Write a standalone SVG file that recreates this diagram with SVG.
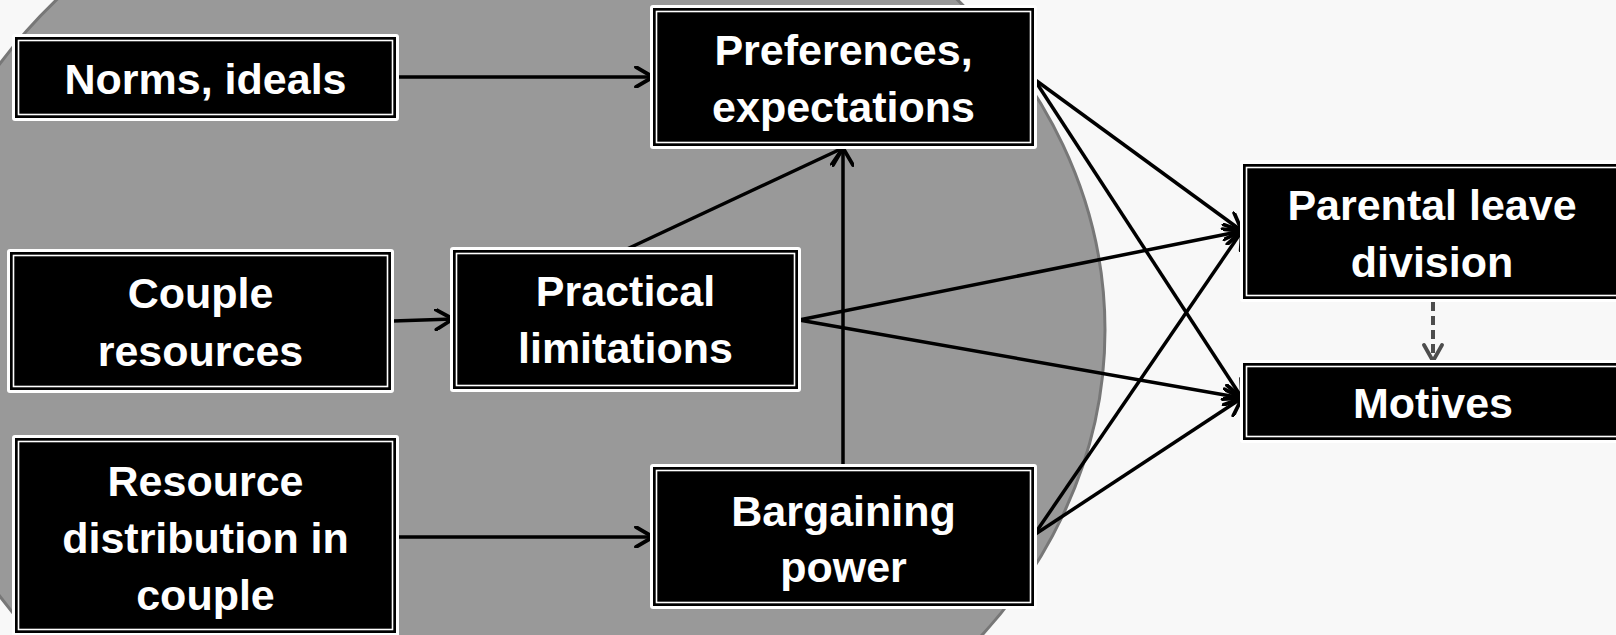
<svg xmlns="http://www.w3.org/2000/svg" width="1616" height="635" viewBox="0 0 1616 635">
  <defs>
    <marker id="arr" viewBox="0 0 22 22" refX="19" refY="11" markerWidth="22" markerHeight="22" markerUnits="userSpaceOnUse" orient="auto">
      <path d="M2,1 L19,11 L2,21" fill="none" stroke="#000" stroke-width="3.8" stroke-linecap="round" stroke-linejoin="round"/>
    </marker>
    <marker id="arrg" viewBox="0 0 22 22" refX="19" refY="11" markerWidth="22" markerHeight="22" markerUnits="userSpaceOnUse" orient="auto">
      <path d="M3,2 L19,11 L3,20" fill="none" stroke="#4d4d4d" stroke-width="3.8" stroke-linecap="round" stroke-linejoin="round"/>
    </marker>
  </defs>
  <style>
    .halo { fill: #fff; }
    .box { fill: #000; }
    .inner { fill: none; stroke: #fff; stroke-width: 1.6; }
    .lbl { fill: #fff; font-family: "Liberation Sans", Arial, sans-serif; font-size: 43px; font-weight: bold; text-anchor: middle; }
    .conn { fill: none; stroke: #000; stroke-width: 3.5; marker-end: url(#arr); }
    .dash { fill: none; stroke: #4d4d4d; stroke-width: 4; stroke-dasharray: 9 5; marker-end: url(#arrg); }
  </style>
  <rect x="0" y="0" width="1616" height="635" fill="#f8f8f8"/>
  <ellipse cx="507" cy="330" rx="598" ry="502" fill="#999" stroke="#777" stroke-width="3"/>

  <g id="connectors">
    <line class="conn" x1="398" y1="77" x2="653" y2="77"/>
    <line class="conn" x1="393" y1="321" x2="453" y2="319"/>
    <line class="conn" x1="627" y1="249" x2="843" y2="148"/>
    <line class="conn" x1="843" y1="466" x2="843" y2="148"/>
    <line class="conn" x1="398" y1="537" x2="653" y2="537"/>
    <line class="conn" x1="1034" y1="79" x2="1242" y2="231"/>
    <line class="conn" x1="1034" y1="79" x2="1242" y2="398"/>
    <line class="conn" x1="799" y1="320" x2="1242" y2="231"/>
    <line class="conn" x1="799" y1="320" x2="1242" y2="398"/>
    <line class="conn" x1="1034" y1="535" x2="1242" y2="231"/>
    <line class="conn" x1="1034" y1="535" x2="1242" y2="398"/>
    <line class="dash" x1="1433" y1="302" x2="1433" y2="361"/>
  </g>

  <g id="norms">
    <rect class="halo" x="12" y="34" width="387" height="87" rx="3"/>
    <rect class="box" x="15" y="37" width="381" height="81"/>
    <rect class="inner" x="18.5" y="40.5" width="374" height="74"/>
    <text class="lbl" x="205.5" y="94">Norms, ideals</text>
  </g>

  <g id="preferences">
    <rect class="halo" x="650" y="5" width="387" height="144" rx="3"/>
    <rect class="box" x="653" y="8" width="381" height="138"/>
    <rect class="inner" x="656.5" y="11.5" width="374" height="131"/>
    <text class="lbl" x="843.5" y="65">Preferences,</text>
    <text class="lbl" x="843.5" y="122">expectations</text>
  </g>

  <g id="couple">
    <rect class="halo" x="7" y="249" width="387" height="144" rx="3"/>
    <rect class="box" x="10" y="252" width="381" height="138"/>
    <rect class="inner" x="13.5" y="255.5" width="374" height="131"/>
    <text class="lbl" x="200.5" y="308">Couple</text>
    <text class="lbl" x="200.5" y="366">resources</text>
  </g>

  <g id="practical">
    <rect class="halo" x="450" y="247" width="351" height="145" rx="3"/>
    <rect class="box" x="453" y="250" width="345" height="139"/>
    <rect class="inner" x="456.5" y="253.5" width="338" height="132"/>
    <text class="lbl" x="625.5" y="306">Practical</text>
    <text class="lbl" x="625.5" y="363">limitations</text>
  </g>

  <g id="resource">
    <rect class="halo" x="12" y="435" width="387" height="203" rx="3"/>
    <rect class="box" x="15" y="438" width="381" height="195"/>
    <rect class="inner" x="18.5" y="441.5" width="374" height="188"/>
    <text class="lbl" x="205.5" y="496">Resource</text>
    <text class="lbl" x="205.5" y="553">distribution in</text>
    <text class="lbl" x="205.5" y="610">couple</text>
  </g>

  <g id="bargaining">
    <rect class="halo" x="650" y="464" width="387" height="145" rx="3"/>
    <rect class="box" x="653" y="467" width="381" height="139"/>
    <rect class="inner" x="656.5" y="470.5" width="374" height="132"/>
    <text class="lbl" x="843.5" y="526">Bargaining</text>
    <text class="lbl" x="843.5" y="582">power</text>
  </g>

  <g id="parental">
    <rect class="halo" x="1240" y="160" width="387" height="142" rx="3"/>
    <rect class="box" x="1243" y="164" width="381" height="135"/>
    <rect class="inner" x="1246.5" y="167.5" width="374" height="128"/>
    <text class="lbl" x="1432" y="220">Parental leave</text>
    <text class="lbl" x="1432" y="277">division</text>
  </g>

  <g id="motives">
    <rect class="halo" x="1240" y="360" width="387" height="83" rx="3"/>
    <rect class="box" x="1243" y="363" width="381" height="77"/>
    <rect class="inner" x="1246.5" y="366.5" width="374" height="70"/>
    <text class="lbl" x="1433" y="418">Motives</text>
  </g>
</svg>
